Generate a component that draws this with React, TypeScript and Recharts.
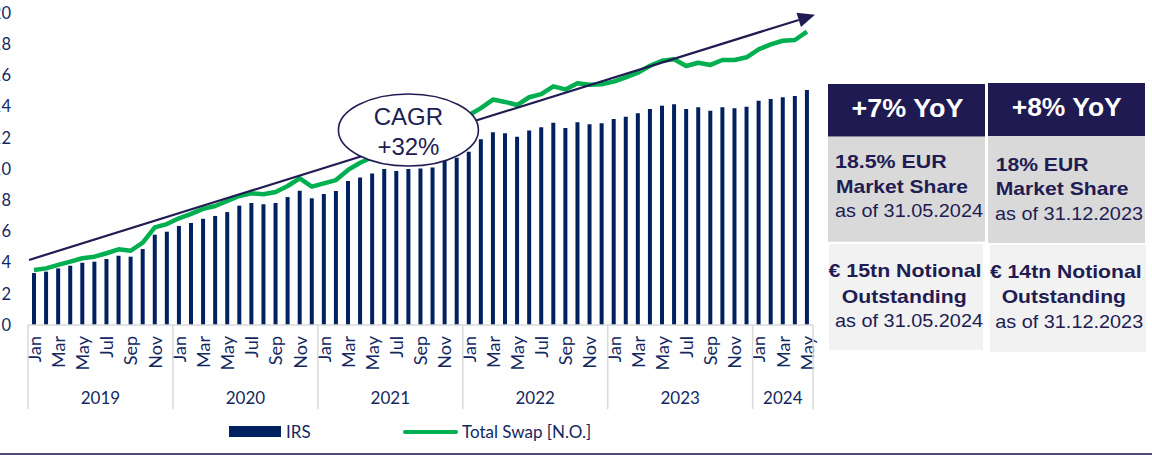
import {
  ComposedChart,
  Bar,
  Line,
  XAxis,
  YAxis,
  Legend,
  ReferenceLine,
  ReferenceDot,
} from "recharts";

const YEARS = [2019, 2020, 2021, 2022, 2023, 2024];
const MONTHS = ["Jan", "Feb", "Mar", "Apr", "May", "Jun", "Jul", "Aug", "Sep", "Oct", "Nov", "Dec"];
const MONTHS_IN_2024 = 5;

// notional outstanding, Jan 2019 .. May 2024
const irs = [
  3.33, 3.42, 3.63, 3.8, 3.99, 4.06, 4.23, 4.44, 4.38, 4.87, 5.79, 5.98,
  6.35, 6.54, 6.81, 6.99, 7.24, 7.65, 7.82, 7.74, 7.82, 8.2, 8.61, 8.12,
  8.4, 8.59, 9.23, 9.45, 9.71, 10.0, 9.87, 10.0, 10.04, 10.1, 10.53, 10.72,
  11.1, 11.9, 12.35, 12.29, 12.07, 12.46, 12.67, 12.97, 12.63, 13.0, 12.87, 12.93,
  13.2, 13.35, 13.57, 13.85, 14.06, 14.15, 13.85, 13.96, 13.74, 13.96, 13.89, 13.99,
  14.38, 14.49, 14.6, 14.68, 15.06,
];

const totalSwap = [
  3.53, 3.63, 3.85, 4.06, 4.28, 4.38, 4.6, 4.85, 4.76, 5.28, 6.26, 6.47,
  6.84, 7.12, 7.44, 7.63, 7.95, 8.27, 8.44, 8.38, 8.53, 8.91, 9.4, 8.87,
  9.08, 9.29, 9.94, 10.4, 10.75, 11.1, 11.4, 11.75, 12.05, 12.4, 12.75, 13.1,
  13.45, 13.9, 14.45, 14.3, 14.1, 14.6, 14.8, 15.3, 15.1, 15.5, 15.4, 15.43,
  15.6, 15.88, 16.17, 16.62, 16.94, 17.03, 16.6, 16.81, 16.67, 16.99, 16.99, 17.16,
  17.67, 17.99, 18.22, 18.27, 18.8,
];

const Y_TICKS = [0, 2, 4, 6, 8, 10, 12, 14, 16, 18, 20];

// trend arrow (data coords at first / last month)
const TREND_START = 4.27;
const TREND_END = 19.72;

const categories: string[] = [];
YEARS.forEach((yr) => {
  const n = yr === 2024 ? MONTHS_IN_2024 : 12;
  for (let m = 0; m < n; m++) categories.push(`${MONTHS[m]} ${yr}`);
});

const data = categories.map((key, i) => ({ key, irs: irs[i], total: totalSwap[i] }));

const NAVY = "#002060";
const GREEN = "#00b050";
const INK = "#211c52";
const AXIS_TEXT = "#13285f";
const FONT = "Lato, 'Open Sans', sans-serif";
const ARIAL = "'Liberation Sans', Arial, sans-serif";

const CHART_W = 830;
const CHART_H = 455;
const MARGIN = { top: 13, right: 17, left: 0, bottom: 11 };
const Y_W = 28;
const MONTH_AXIS_H = 45;
const BAND = (CHART_W - MARGIN.right - MARGIN.left - Y_W) / categories.length;

const MonthTick = ({ x, y, payload }: any) => (
  <text
    x={x}
    y={y}
    transform={`rotate(-90, ${x}, ${y})`}
    textAnchor="end"
    dy="0.38em"
    fill={AXIS_TEXT}
    fontSize={18}
    fontFamily={FONT}
  >
    {String(payload.value).split(" ")[0]}
  </text>
);

const YearTick = ({ x, y, payload }: any) => {
  const [m, yr] = String(payload.value).split(" ");
  const idx = categories.indexOf(payload.value);
  const inYear = categories.filter((c) => c.endsWith(yr)).length;
  const mIdx = MONTHS.indexOf(m);
  const mid = (inYear - 1) / 2;
  const top = y - MONTH_AXIS_H;
  return (
    <g>
      {mIdx === 0 && (
        <line x1={x - BAND / 2} x2={x - BAND / 2} y1={top} y2={y + 39} stroke="#d9d9d9" strokeWidth={1.5} />
      )}
      {idx === categories.length - 1 && (
        <line x1={x + BAND / 2} x2={x + BAND / 2} y1={top} y2={y + 39} stroke="#d9d9d9" strokeWidth={1.5} />
      )}
      {mIdx === Math.floor(mid) && (
        <text
          x={x + (mid - Math.floor(mid)) * BAND}
          y={y + 28}
          textAnchor="middle"
          dy="0.35em"
          fill={AXIS_TEXT}
          fontSize={17}
          fontFamily={FONT}
        >
          {yr}
        </text>
      )}
    </g>
  );
};

const TrendArrow = (props: any) => {
  const { x1, y1, x2, y2 } = props;
  const dx = x2 - x1;
  const dy = y2 - y1;
  const sx = x1 - 5;
  const sy = y1 - (5 * dy) / dx;
  const tx = x2 + 8;
  const ty = y2 + (8 * dy) / dx;
  const len = Math.hypot(tx - sx, ty - sy);
  const ux = (tx - sx) / len;
  const uy = (ty - sy) / len;
  const bx = tx - ux * 17;
  const by = ty - uy * 17;
  const nx = -uy * 7.5;
  const ny = ux * 7.5;
  return (
    <g>
      <line x1={sx} y1={sy} x2={bx} y2={by} stroke={INK} strokeWidth={2.2} />
      <polygon points={`${tx},${ty} ${bx + nx},${by + ny} ${bx - nx},${by - ny}`} fill={INK} />
    </g>
  );
};

const CagrBubble = ({ cx, cy }: any) => (
  <g>
    <ellipse cx={cx} cy={cy} rx={70} ry={36} fill="#ffffff" stroke={INK} strokeWidth={1.6} />
    <text x={cx} y={cy - 5} textAnchor="middle" fill={INK} fontSize={24} fontFamily={ARIAL}>
      CAGR
    </text>
    <text x={cx} y={cy + 25} textAnchor="middle" fill={INK} fontSize={24} fontFamily={ARIAL}>
      +32%
    </text>
  </g>
);

const LEGEND_POS = [
  { mark: 229, text: 286 },
  { mark: 403, text: 462 },
];

const LegendContent = ({ payload }: any) => (
  <div style={{ position: "relative", height: 24, fontFamily: FONT, fontSize: 17, color: AXIS_TEXT }}>
    {(payload || []).map((p: any, i: number) => {
      const pos = LEGEND_POS[i] || LEGEND_POS[0];
      const isLine = p.type === "line";
      return (
        <div key={p.value}>
          <span
            style={{
              position: "absolute",
              left: pos.mark,
              top: isLine ? 9.5 : 6,
              width: isLine ? 55 : 52,
              height: isLine ? 4.5 : 10.5,
              borderRadius: isLine ? 2 : 0,
              background: p.color,
            }}
          />
          <span style={{ position: "absolute", left: pos.text, top: 0, lineHeight: "24px", whiteSpace: "nowrap" }}>
            {p.value}
          </span>
        </div>
      );
    })}
  </div>
);

const Panel = () => (
  <svg width={332} height={455} style={{ position: "absolute", left: 820, top: 0 }} viewBox="820 0 332 455">
    <rect x={828} y={84} width={157} height={52.7} fill="#201a52" />
    <rect x={988} y={83} width={157} height={53} fill="#201a52" />
    <rect x={828} y={136.7} width={157} height={105} fill="#d9d9d9" />
    <rect x={988} y={136} width={157} height={107} fill="#d9d9d9" />
    <rect x={829} y={244} width={154} height={106} fill="#f2f2f2" />
    <rect x={990} y={245} width={156} height={107} fill="#f2f2f2" />

    <g fontFamily={ARIAL} fontWeight="bold" fontSize={25} fill="#ffffff" textAnchor="middle">
      <text x={907.5} y={116.5} textLength={112} lengthAdjust="spacingAndGlyphs">+7% YoY</text>
      <text x={1066.7} y={115.5} textLength={110} lengthAdjust="spacingAndGlyphs">+8% YoY</text>
    </g>

    <g fontFamily={ARIAL} fontSize={18.5} fill={INK}>
      <text x={835} y={168.3} fontWeight="bold" textLength={111.7} lengthAdjust="spacingAndGlyphs">18.5% EUR</text>
      <text x={836} y={193.3} fontWeight="bold" textLength={132} lengthAdjust="spacingAndGlyphs">Market Share</text>
      <text x={835} y={216.7} textLength={148} lengthAdjust="spacingAndGlyphs">as of 31.05.2024</text>

      <text x={995.7} y={170.7} fontWeight="bold" textLength={92.7} lengthAdjust="spacingAndGlyphs">18% EUR</text>
      <text x={995.7} y={195} fontWeight="bold" textLength={132.7} lengthAdjust="spacingAndGlyphs">Market Share</text>
      <text x={995} y={220} textLength={148} lengthAdjust="spacingAndGlyphs">as of 31.12.2023</text>
    </g>

    <g fontFamily={ARIAL} fontSize={18.5} fill={INK} textAnchor="middle">
      <text x={905} y={277.3} fontWeight="bold" textLength={153} lengthAdjust="spacingAndGlyphs">€ 15tn Notional</text>
      <text x={904.2} y={302.7} fontWeight="bold" textLength={125} lengthAdjust="spacingAndGlyphs">Outstanding</text>
      <text x={909} y={326.7} textLength={148} lengthAdjust="spacingAndGlyphs">as of 31.05.2024</text>

      <text x={1065.8} y={277.7} fontWeight="bold" textLength={151.7} lengthAdjust="spacingAndGlyphs">€ 14tn Notional</text>
      <text x={1063.8} y={303} fontWeight="bold" textLength={124.3} lengthAdjust="spacingAndGlyphs">Outstanding</text>
      <text x={1069.2} y={328} textLength={148} lengthAdjust="spacingAndGlyphs">as of 31.12.2023</text>
    </g>
  </svg>
);

export default function App() {
  return (
    <div
      style={{
        position: "absolute",
        left: 0,
        top: 0,
        width: 1152,
        height: 455,
        overflow: "hidden",
        background: "#ffffff",
        fontFamily: FONT,
      }}
    >
      <div style={{ position: "absolute", left: 0, top: 0 }}>
        <ComposedChart width={CHART_W} height={CHART_H} data={data} margin={MARGIN}>
          <YAxis
            domain={[0, 20]}
            ticks={Y_TICKS}
            interval={0}
            width={Y_W}
            axisLine={false}
            tickLine={false}
            tickSize={0}
            tickMargin={17}
            tick={{ fill: AXIS_TEXT, fontSize: 16.5, fontFamily: FONT }}
          />
          <XAxis
            dataKey="key"
            interval={1}
            height={MONTH_AXIS_H}
            tickLine={false}
            tickSize={0}
            tickMargin={11}
            axisLine={{ stroke: "#d9d9d9", strokeWidth: 1.5 }}
            tick={<MonthTick />}
          />
          <XAxis
            xAxisId="year"
            dataKey="key"
            interval={0}
            height={50}
            tickLine={false}
            axisLine={false}
            tickSize={0}
            tickMargin={0}
            tick={<YearTick />}
          />
          <Legend verticalAlign="bottom" content={<LegendContent />} wrapperStyle={{ left: 0, width: CHART_W }} />
          <Bar dataKey="irs" name="IRS" fill={NAVY} barSize={4} isAnimationActive={false} legendType="rect" />
          <Line
            type="linear"
            dataKey="total"
            name="Total Swap [N.O.]"
            stroke={GREEN}
            strokeWidth={4.5}
            strokeLinejoin="round"
            dot={false}
            activeDot={false}
            legendType="line"
            isAnimationActive={false}
          />
          <ReferenceLine
            segment={[
              { x: categories[0], y: TREND_START },
              { x: categories[categories.length - 1], y: TREND_END },
            ]}
            shape={<TrendArrow />}
          />
          <ReferenceDot x="Aug 2021" y={12.5} shape={<CagrBubble />} />
        </ComposedChart>
      </div>
      <Panel />
      <div style={{ position: "absolute", left: 0, top: 452.5, width: 1152, height: 2, background: "#4f4a7f" }} />
    </div>
  );
}
